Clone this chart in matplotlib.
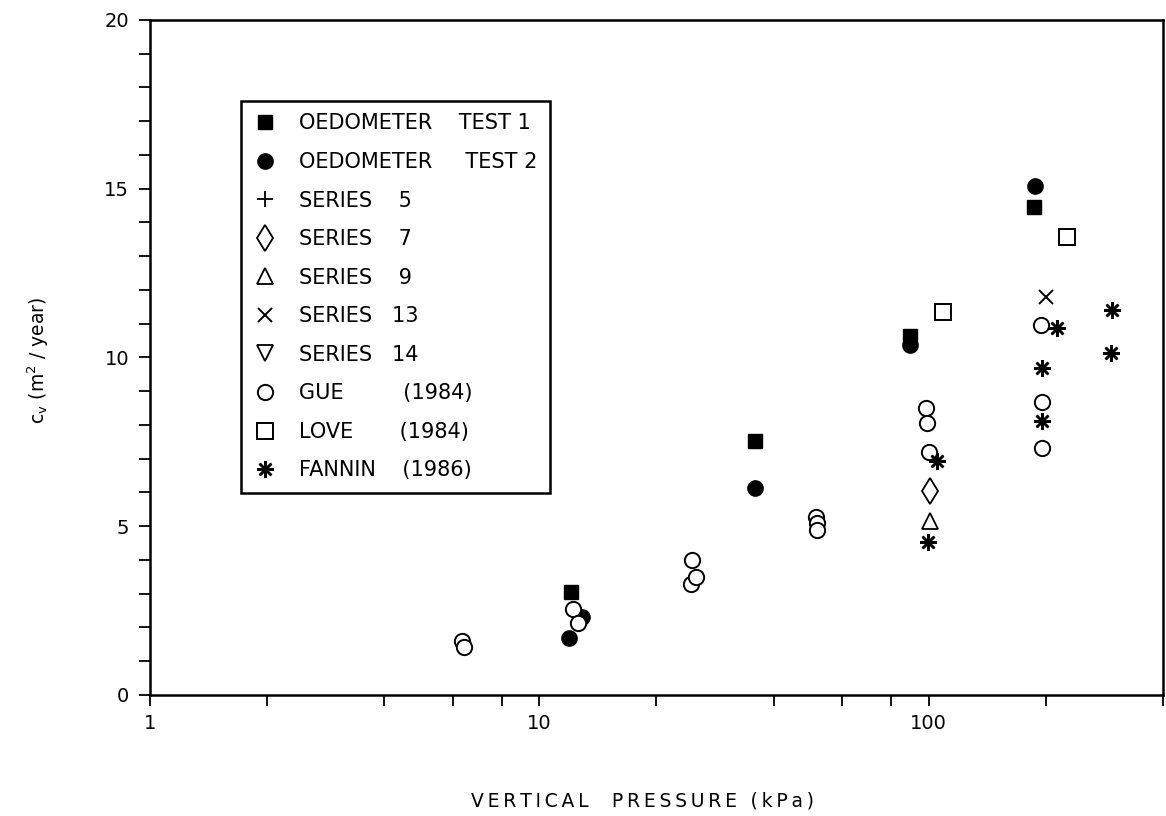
import matplotlib
matplotlib.use("Agg")
import matplotlib.pyplot as plt
from matplotlib.lines import Line2D
from matplotlib.ticker import FixedLocator, NullFormatter, FuncFormatter

# Vertical pressure (kPa) and coefficient of consolidation c_v (m^2/year)
test1_p = [12.1, 35.9, 89.4, 187.0]
test1_cv = [3.05, 7.53, 10.65, 14.47]

test2_p = [11.9, 12.9, 35.9, 89.4, 188.0]
test2_cv = [1.70, 2.32, 6.14, 10.37, 15.08]

series5_p, series5_cv = [], []
series7_p, series7_cv = [101.0], [6.05]
series9_p, series9_cv = [100.6], [5.16]
series13_p, series13_cv = [200.0], [11.78]
series14_p, series14_cv = [], []

gue_p = [6.33, 6.42, 12.2, 12.6, 24.5, 25.3, 24.7, 51.4, 51.6, 51.6,
         98.6, 99.0, 100.2, 195.0, 195.6, 195.6]
gue_cv = [1.61, 1.43, 2.55, 2.13, 3.29, 3.51, 4.00, 5.28, 5.09, 4.89,
          8.49, 8.05, 7.21, 10.96, 8.69, 7.31]

love_p = [108.8, 226.8]
love_cv = [11.36, 13.56]

fannin_p = [105.0, 99.6, 213.8, 196.0, 196.0, 296.0, 294.0]
fannin_cv = [6.93, 4.54, 10.88, 9.68, 8.12, 11.41, 10.12]

legend_labels = [
    "OEDOMETER    TEST 1",
    "OEDOMETER     TEST 2",
    "SERIES    5",
    "SERIES    7",
    "SERIES    9",
    "SERIES   13",
    "SERIES   14",
    "GUE         (1984)",
    "LOVE       (1984)",
    "FANNIN    (1986)",
]

x_major = [1, 10, 100]
x_minor = [2, 4, 6, 8, 20, 40, 60, 80, 200, 400]


def spaced(text, gap="\u2009"):
    """Open up letter spacing by putting a thin space between characters."""
    return gap.join(text)


plt.rcParams["font.family"] = ["DejaVu Sans"]

fig = plt.figure(figsize=(11.66, 8.16), dpi=100)
ax = fig.add_axes([0.1286, 0.1483, 0.8688, 0.8272])

asterisk = (8, 2, 0)
styles = [
    dict(marker="s", ms=10.5, mfc="black", mec="black", mew=1.0),
    dict(marker="o", ms=11, mfc="black", mec="black", mew=1.0),
    dict(marker="+", ms=12, mfc="none", mec="black", mew=1.3),
    dict(marker="d", ms=13, mfc="white", mec="black", mew=1.3),
    dict(marker="^", ms=12, mfc="white", mec="black", mew=1.3),
    dict(marker="x", ms=10, mfc="none", mec="black", mew=1.4),
    dict(marker="v", ms=12, mfc="white", mec="black", mew=1.3),
    dict(marker="o", ms=11, mfc="white", mec="black", mew=1.4),
    dict(marker="s", ms=11.5, mfc="white", mec="black", mew=1.4),
    dict(marker=asterisk, ms=12, mfc="black", mec="black", mew=1.8),
]

series = [
    (test1_p, test1_cv), (test2_p, test2_cv), (series5_p, series5_cv),
    (series7_p, series7_cv), (series9_p, series9_cv),
    (series13_p, series13_cv), (series14_p, series14_cv),
    (gue_p, gue_cv), (love_p, love_cv), (fannin_p, fannin_cv),
]

for (px, cv), st in zip(series, styles):
    ax.plot(px, cv, linestyle="none", clip_on=False, **st)

ax.set_xscale("log")
ax.set_xlim(1, 400)
ax.set_ylim(0, 20)

ax.xaxis.set_major_locator(FixedLocator(x_major))
ax.xaxis.set_major_formatter(FuncFormatter(lambda v, pos: f"{v:g}"))
ax.xaxis.set_minor_locator(FixedLocator(x_minor))
ax.xaxis.set_minor_formatter(NullFormatter())

ax.yaxis.set_major_locator(FixedLocator([0, 5, 10, 15, 20]))
ax.yaxis.set_minor_locator(FixedLocator(list(range(0, 21))))

ax.tick_params(axis="both", which="both", direction="out", length=8,
               width=1.3, color="black", labelsize=14)
ax.tick_params(axis="x", which="major", pad=6)
ax.tick_params(axis="y", which="major", pad=7)

for sp in ax.spines.values():
    sp.set_linewidth(1.8)
    sp.set_color("black")

ax.set_xlabel(spaced("VERTICAL  PRESSURE (kPa)"), fontsize=13.5)
ax.xaxis.set_label_coords(0.486, -0.1437)
ax.set_ylabel(r"c$_\mathregular{v}$ (m$^\mathregular{2}$ / year)", fontsize=13.5)
ax.yaxis.set_label_coords(-0.098, 0.496)

handles = [Line2D([], [], linestyle="none", **st) for st in styles]
leg = ax.legend(handles, legend_labels, loc="upper left",
                bbox_to_anchor=(0.0898, 0.88), borderaxespad=0,
                fontsize=15, frameon=True, fancybox=False,
                edgecolor="black", framealpha=1, labelspacing=0.89,
                handlelength=1.1, handletextpad=1.1, borderpad=0.6)
leg.get_frame().set_linewidth(1.8)

fig.savefig("out.png", dpi=100, facecolor="white")
